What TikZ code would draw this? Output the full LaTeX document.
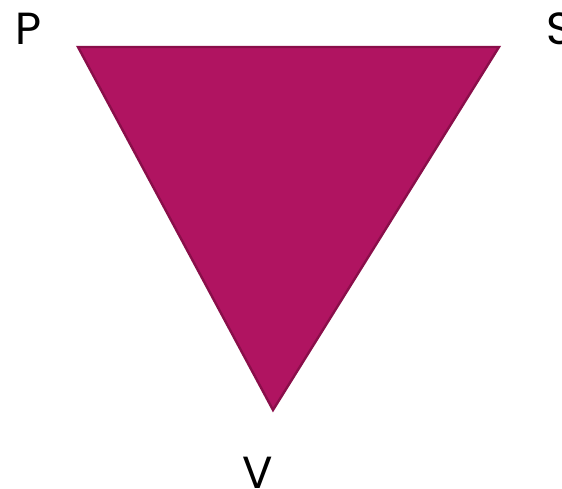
\documentclass[tikz,border=0pt]{standalone}
\usepackage{fontspec}
\setmainfont{Poppins}
\usepackage{tikz}
\usetikzlibrary{positioning}

\definecolor{triFill}{HTML}{B01461}
\definecolor{triLine}{HTML}{8A0E4A}

\begin{document}
\begin{tikzpicture}[
    x=1pt, y=-1pt,
    font=\fontsize{45}{50}\selectfont,
    tri/.style={draw=triLine, fill=triFill, line width=2.4pt, line join=miter},
    corner/.style={inner sep=0pt, anchor=base}
]
\useasboundingbox (0,0) rectangle (562,488);

% CORNERS
\coordinate (p) at (78,47);
\coordinate (s) at (499,47);
\coordinate (v) at (273,410);

% TRIANGLE
\filldraw[tri] (p) -- (s) -- (v) -- cycle;

% LABELS
\node[corner] (lp) at (29,44) {P};
\node[corner] (ls) at (560,44) {S};
\node[corner] (lv) at (258,488) {V};

\end{tikzpicture}
\end{document}
